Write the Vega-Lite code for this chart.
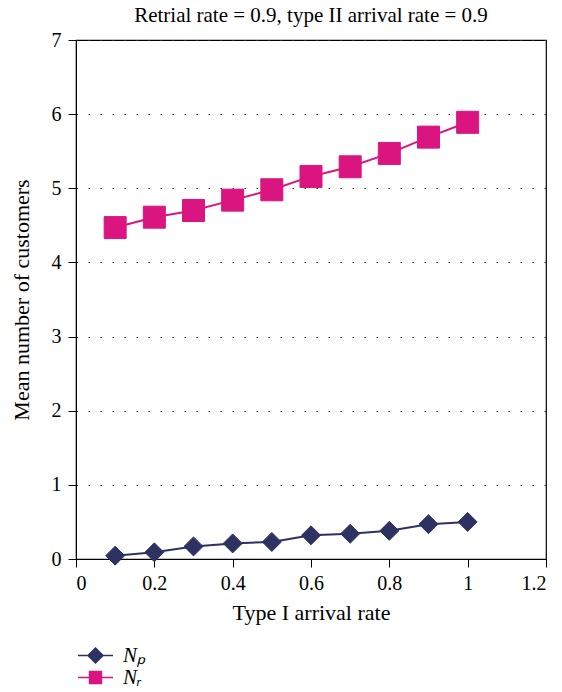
{
  "$schema": "https://vega.github.io/schema/vega-lite/v6.json",
  "width": 470,
  "height": 519,
  "autosize": {"type": "none"},
  "padding": {"left": 76, "top": 40, "right": 16, "bottom": 133},
  "title": {"text": "Retrial rate = 0.9, type II arrival rate = 0.9", "font": "Liberation Serif", "fontSize": 21, "fontWeight": "normal", "color": "black", "offset": 4},
  "config": {
    "font": "Liberation Serif",
    "view": {"stroke": "black", "strokeWidth": 1.2},
    "axis": {"domainColor": "black", "tickColor": "black", "tickSize": 8, "labelColor": "black", "labelFontSize": 20, "titleFontSize": 22, "titleFontWeight": "normal", "titleColor": "black", "labelFont": "Liberation Serif", "titleFont": "Liberation Serif"}
  },
  "data": {"values": [
    {"rate": 0.1, "value": 0.045, "series": "Np"},
    {"rate": 0.2, "value": 0.09, "series": "Np"},
    {"rate": 0.3, "value": 0.17, "series": "Np"},
    {"rate": 0.4, "value": 0.21, "series": "Np"},
    {"rate": 0.5, "value": 0.23, "series": "Np"},
    {"rate": 0.6, "value": 0.32, "series": "Np"},
    {"rate": 0.7, "value": 0.34, "series": "Np"},
    {"rate": 0.8, "value": 0.38, "series": "Np"},
    {"rate": 0.9, "value": 0.47, "series": "Np"},
    {"rate": 1.0, "value": 0.50, "series": "Np"},
    {"rate": 0.1, "value": 4.47, "series": "Nr"},
    {"rate": 0.2, "value": 4.61, "series": "Nr"},
    {"rate": 0.3, "value": 4.70, "series": "Nr"},
    {"rate": 0.4, "value": 4.84, "series": "Nr"},
    {"rate": 0.5, "value": 4.98, "series": "Nr"},
    {"rate": 0.6, "value": 5.16, "series": "Nr"},
    {"rate": 0.7, "value": 5.29, "series": "Nr"},
    {"rate": 0.8, "value": 5.47, "series": "Nr"},
    {"rate": 0.9, "value": 5.69, "series": "Nr"},
    {"rate": 1.0, "value": 5.89, "series": "Nr"}
  ]},
  "encoding": {
    "x": {"field": "rate", "type": "quantitative", "scale": {"domain": [0, 1.2], "nice": false, "zero": false},
      "axis": {"values": [0, 0.2, 0.4, 0.6, 0.8, 1, 1.2], "format": "~g", "title": "Type I arrival rate", "grid": false, "labelPadding": 6, "titlePadding": 9}},
    "y": {"field": "value", "type": "quantitative", "scale": {"domain": [0, 7], "nice": false},
      "axis": {"values": [0, 1, 2, 3, 4, 5, 6, 7], "title": "Mean number of customers", "grid": true, "gridDash": [1.5, 10.5], "gridColor": "#333", "gridWidth": 1.2, "labelPadding": 7, "titlePadding": 18}}
  },
  "layer": [
    {
      "transform": [{"filter": "datum.series === 'Np'"}],
      "layer": [
        {"mark": {"type": "line", "strokeWidth": 2, "color": "#2e3262"}},
        {"mark": {"type": "point", "shape": "diamond", "filled": false, "fill": "#2e3262", "fillOpacity": 1, "opacity": 1, "strokeWidth": 1, "size": 360},
          "encoding": {"color": {"field": "series", "type": "nominal", "scale": {"domain": ["Np"], "range": ["#2e3262"]},
            "legend": {"orient": "none", "legendX": 1, "legendY": 597, "title": null, "padding": 0, "symbolSize": 1225, "symbolStrokeWidth": 1.5,
              "symbolType": "M-1,0H1M0,-0.43L0.43,0L0,0.43L-0.43,0Z", "symbolFillColor": "#2e3262", "symbolStrokeColor": "#2e3262",
              "labelFontSize": 21, "labelFontStyle": "italic", "labelColor": "black", "labelOffset": 9, "labelFont": "Liberation Serif",
              "labelExpr": "'Nₚ'",
              "encode": {"symbols": {"update": {"stroke": {"value": "#2e3262"}, "fill": {"value": "#2e3262"}, "strokeWidth": {"value": 1.5}, "opacity": {"value": 1}}}}}}}}
      ]
    },
    {
      "transform": [{"filter": "datum.series === 'Nr'"}],
      "layer": [
        {"mark": {"type": "line", "strokeWidth": 2, "color": "#da1580"}},
        {"mark": {"type": "point", "shape": "square", "filled": false, "fill": "#da1580", "fillOpacity": 1, "opacity": 1, "strokeWidth": 1, "size": 484},
          "encoding": {"color": {"field": "series", "type": "nominal", "scale": {"domain": ["Nr"], "range": ["#da1580"]},
            "legend": {"orient": "none", "legendX": 1, "legendY": 619, "title": null, "padding": 0, "symbolSize": 1225, "symbolStrokeWidth": 1.5,
              "symbolType": "M-1,0H1M-0.34,-0.34H0.34V0.34H-0.34Z", "symbolFillColor": "#da1580", "symbolStrokeColor": "#da1580",
              "labelFontSize": 21, "labelFontStyle": "italic", "labelColor": "black", "labelOffset": 9, "labelFont": "Liberation Serif",
              "labelExpr": "'Nᵣ'",
              "encode": {"symbols": {"update": {"stroke": {"value": "#da1580"}, "fill": {"value": "#da1580"}, "strokeWidth": {"value": 1.5}, "opacity": {"value": 1}}}}}}}}
      ]
    }
  ],
  "resolve": {"scale": {"color": "independent"}, "legend": {"color": "independent"}}
}
